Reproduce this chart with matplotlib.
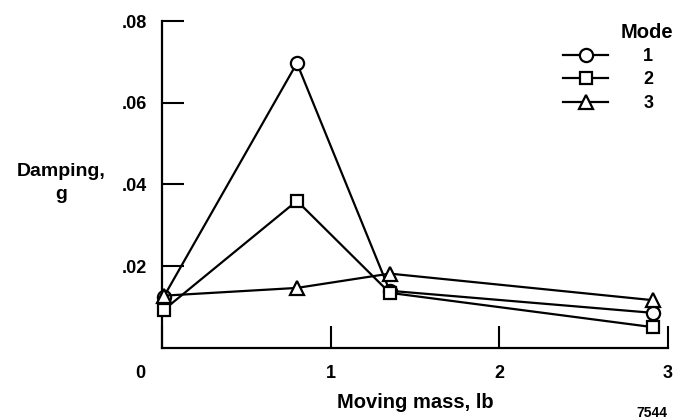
import matplotlib
matplotlib.use("Agg")
import matplotlib.pyplot as plt
import matplotlib.transforms as mtransforms

plt.rcParams['font.family'] = ['Liberation Sans', 'DejaVu Sans']
plt.rcParams['font.weight'] = 'bold'

# Data
mass = [0.01, 0.80, 1.35, 2.91]
mode1 = [0.0125, 0.0697, 0.0140, 0.0086]
mode2 = [0.0093, 0.0360, 0.0135, 0.0051]
mode3 = [0.0128, 0.0147, 0.0182, 0.0117]
series = [mode1, mode2, mode3]
mode_labels = ['1', '2', '3']
markers = ['o', 's', '^']

xticks = [0, 1, 2, 3]
xticklabels = ['0', '1', '2', '3']
yticks = [0.02, 0.04, 0.06, 0.08]
yticklabels = ['.02', '.04', '.06', '.08']

W, H = 675, 419
fig = plt.figure(figsize=(W / 100, H / 100), dpi=100)
left_px, right_px, top_px, bottom_px = 162, 668, 21, 348
ax = fig.add_axes([left_px / W, 1 - bottom_px / H,
                   (right_px - left_px) / W, (bottom_px - top_px) / H])

handles = []
for vals, m, lab in zip(series, markers, mode_labels):
    h, = ax.plot(mass, vals, color='black', lw=1.6, marker=m,
                 markersize=9.5 if m != 's' else 9, markerfacecolor='white',
                 markeredgecolor='black', markeredgewidth=1.6, label=lab,
                 clip_on=False, zorder=3)
    handles.append(h)

ax.set_xlim(0, 3)
ax.set_ylim(0, 0.08)
ax.set_xticks(xticks)
ax.set_xticklabels(xticklabels)
ax.set_yticks(yticks)
ax.set_yticklabels(yticklabels)

for s in ['top', 'right']:
    ax.spines[s].set_visible(False)
for s in ['left', 'bottom']:
    ax.spines[s].set_linewidth(1.6)

ax.tick_params(axis='both', direction='in', length=16, width=1.5,
               labelsize=13)
ax.tick_params(axis='x', pad=12)
ax.tick_params(axis='y', pad=11)
for lbl in ax.get_xticklabels() + ax.get_yticklabels():
    lbl.set_fontweight('bold')

# shift "0" label left like the original origin label
offset = mtransforms.ScaledTranslation(-22 / 100, 0, fig.dpi_scale_trans)
xl0 = ax.get_xticklabels()[0]
xl0.set_transform(xl0.get_transform() + offset)

ax.set_xlabel('Moving mass, lb', fontsize=14.5, fontweight='bold', labelpad=8)
ax.set_ylabel('Damping,\ng', fontsize=14, fontweight='bold', rotation=0,
              ha='center', va='center', linespacing=1.45)
ax.yaxis.set_label_coords(-0.20, 0.505)

leg = ax.legend(handles=handles, loc='upper left',
                bbox_to_anchor=(563 / W, 1 - 48 / H),
                bbox_transform=fig.transFigure, frameon=False,
                handlelength=2.5, handletextpad=1.95, borderpad=0,
                labelspacing=0.36, borderaxespad=0,
                prop={'size': 13, 'weight': 'bold'})
fig.text(647 / W, 1 - 32 / H, 'Mode', ha='center', va='center',
         fontsize=14.5, fontweight='bold')
fig.text(652 / W, 1 - 413 / H, '7544', ha='center', va='center',
         fontsize=10, fontweight='bold')

fig.savefig('out.png', dpi=100)
